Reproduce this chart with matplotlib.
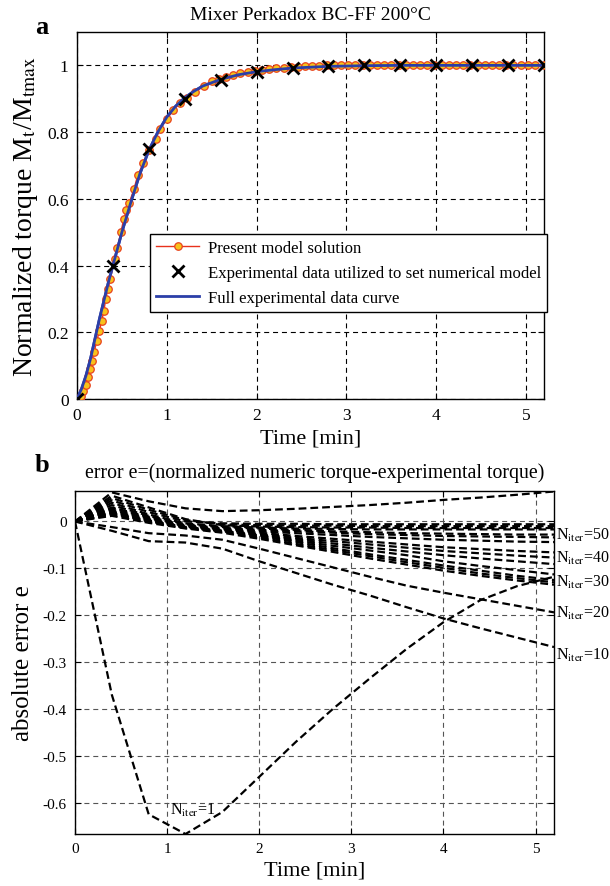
import matplotlib
matplotlib.use("Agg")
import matplotlib.pyplot as plt

plt.rcParams['font.family'] = ['Liberation Serif', 'DejaVu Serif']
plt.rcParams['mathtext.fontset'] = 'stix'
plt.rcParams['axes.unicode_minus'] = False

# ---------------- Panel a data ----------------
model_t = [0, 0.015, 0.03, 0.05, 0.07, 0.10, 0.12, 0.145, 0.165, 0.19, 0.22, 0.25,
           0.275, 0.30, 0.32, 0.345, 0.37, 0.42, 0.45, 0.49, 0.52, 0.55, 0.58, 0.635,
           0.675, 0.74, 0.80, 0.876, 0.925, 1.0, 1.07, 1.15, 1.22, 1.31, 1.41, 1.50,
           1.58, 1.66, 1.74, 1.82, 1.90, 1.98, 2.06, 2.14, 2.22, 2.30, 2.38, 2.46,
           2.54, 2.62, 2.70, 2.78, 2.86, 2.94, 3.02, 3.10, 3.18, 3.26, 3.34, 3.42,
           3.50, 3.58, 3.66, 3.74, 3.82, 3.90, 3.98, 4.06, 4.14, 4.22, 4.30, 4.38,
           4.46, 4.54, 4.62, 4.70, 4.78, 4.86, 4.94, 5.02, 5.10, 5.20]
model_v = [0, 0.0, 0.004, 0.01, 0.025, 0.042, 0.065, 0.09, 0.114, 0.14, 0.174, 0.205,
           0.234, 0.265, 0.30, 0.33, 0.36, 0.42, 0.453, 0.50, 0.54, 0.565, 0.587, 0.629,
           0.67, 0.707, 0.745, 0.78, 0.81, 0.838, 0.866, 0.887, 0.903, 0.92, 0.937, 0.953,
           0.96, 0.966, 0.972, 0.977, 0.981, 0.984, 0.987, 0.989, 0.991, 0.993, 0.995, 0.996,
           0.997, 0.998, 0.999, 1.0, 1.0, 1.0, 1.0, 1.0, 1.0, 1.0, 1.0, 1.0,
           1.0, 1.0, 1.0, 1.0, 1.0, 1.0, 1.0, 1.0, 1.0, 1.0, 1.0, 1.0,
           1.0, 1.0, 1.0, 1.0, 1.0, 1.0, 1.0, 1.0, 1.0, 1.0]

exp_t = [0, 0.4, 0.8, 1.2, 1.6, 2.0, 2.4, 2.8, 3.2, 3.6, 4.0, 4.4, 4.8, 5.2]
exp_v = [0, 0.40, 0.75, 0.90, 0.955, 0.98, 0.993, 0.997, 1.0, 1.0, 1.0, 1.0, 1.0, 1.0]

full_t = [0, 0.05, 0.1, 0.15, 0.2, 0.25, 0.3, 0.35, 0.4, 0.45, 0.5, 0.6, 0.7, 0.8,
          0.9, 1.0, 1.1, 1.2, 1.3, 1.4, 1.6, 1.8, 2.0, 2.2, 2.4, 2.8, 3.2, 3.6, 4.0,
          4.4, 4.8, 5.2]
full_v = [0, 0.03, 0.07, 0.12, 0.18, 0.24, 0.295, 0.35, 0.40, 0.45, 0.50, 0.59, 0.675,
          0.745, 0.80, 0.845, 0.878, 0.903, 0.922, 0.938, 0.958, 0.972, 0.981, 0.987,
          0.992, 0.997, 0.999, 1.0, 1.0, 1.0, 1.0, 1.0]

# ---------------- Panel b data ----------------
err_t = [0, 0.4, 0.8, 1.2, 1.6, 2.0, 2.4, 2.8, 3.2, 3.6, 4.0, 4.4, 4.8, 5.2]
err_n1 = [0, -0.37, -0.625, -0.667, -0.62, -0.545, -0.47, -0.40, -0.335, -0.272, -0.215, -0.168, -0.138, -0.118]
err_top = [0, 0.062, 0.043, 0.028, 0.022, 0.024, 0.027, 0.031, 0.035, 0.040, 0.046, 0.051, 0.057, 0.064]
err_n10 = [0, -0.02, -0.042, -0.045, -0.058, -0.085, -0.11, -0.135, -0.158, -0.183, -0.207, -0.228, -0.248, -0.268]
err_n20 = [0, -0.012, -0.025, -0.03, -0.039, -0.058, -0.078, -0.098, -0.118, -0.137, -0.152, -0.166, -0.180, -0.194]
err_n30a = [0, 0.012, -0.003, -0.015, -0.024, -0.037, -0.051, -0.065, -0.079, -0.092, -0.105, -0.116, -0.126, -0.135]
err_n30b = [0, 0.015, 0.0, -0.013, -0.022, -0.034, -0.048, -0.061, -0.074, -0.087, -0.099, -0.111, -0.121, -0.130]
err_n30c = [0, 0.017, 0.002, -0.012, -0.020, -0.031, -0.044, -0.057, -0.070, -0.082, -0.094, -0.105, -0.116, -0.125]
err_n35 = [0, 0.018, 0.0, -0.014, -0.020, -0.030, -0.041, -0.052, -0.062, -0.072, -0.085, -0.095, -0.104, -0.113]
err_n40a = [0, 0.028, 0.008, -0.010, -0.016, -0.021, -0.025, -0.029, -0.033, -0.036, -0.039, -0.041, -0.043, -0.044]
err_n40b = [0, 0.025, 0.006, -0.011, -0.018, -0.024, -0.031, -0.037, -0.043, -0.049, -0.055, -0.059, -0.063, -0.066]
err_n40c = [0, 0.022, 0.004, -0.012, -0.020, -0.027, -0.035, -0.042, -0.049, -0.056, -0.063, -0.068, -0.073, -0.077]
err_n40d = [0, 0.020, 0.002, -0.013, -0.021, -0.029, -0.038, -0.047, -0.056, -0.064, -0.072, -0.079, -0.085, -0.091]
err_n45a = [0, 0.035, 0.012, -0.006, -0.012, -0.015, -0.018, -0.021, -0.023, -0.025, -0.026, -0.027, -0.028, -0.028]
err_n45b = [0, 0.030, 0.010, -0.008, -0.014, -0.018, -0.021, -0.024, -0.027, -0.029, -0.031, -0.032, -0.033, -0.034]
err_n50a = [0, 0.045, 0.020, 0.0, -0.004, -0.005, -0.005, -0.006, -0.006, -0.006, -0.006, -0.006, -0.006, -0.006]
err_n50b = [0, 0.050, 0.025, 0.003, -0.006, -0.008, -0.009, -0.009, -0.010, -0.010, -0.010, -0.010, -0.010, -0.010]
err_n50c = [0, 0.055, 0.030, 0.005, -0.008, -0.011, -0.012, -0.013, -0.013, -0.014, -0.014, -0.014, -0.014, -0.014]
err_n50d = [0, 0.040, 0.015, -0.004, -0.010, -0.013, -0.015, -0.016, -0.017, -0.017, -0.017, -0.017, -0.017, -0.017]

niter_labels = ["50", "40", "30", "20", "10"]
niter_label_y = [-0.028, -0.077, -0.128, -0.194, -0.283]

W, H = 610, 887
fig = plt.figure(figsize=(W / 100, H / 100), dpi=100)

def style_axes(ax, gridcolor):
    ax.tick_params(direction='in', top=True, right=True, length=4, width=0.8,
                   labelsize=12.5, pad=6)
    for s in ax.spines.values():
        s.set_linewidth(1.0)
        s.set_color('black')
    ax.grid(True, color=gridcolor, linestyle=(0, (4.5, 3.5)), linewidth=0.8)
    ax.set_axisbelow(True)

# ---------------- Panel a ----------------
axa = fig.add_axes([77 / W, 1 - 400 / H, 467 / W, 367 / H])
style_axes(axa, 'black')
axa.plot(full_t, full_v, color='#2b3fa8', lw=2.0, zorder=2, label='Full experimental data curve')
axa.plot(model_t, model_v, color='#e8321c', lw=1.0, marker='o', ms=5.4,
         mfc='#f7c21b', mec='#e8421c', mew=0.9, zorder=3, label='Present model solution')
axa.plot(full_t, full_v, color='#2b3fa8', lw=2.0, zorder=4)
axa.plot(exp_t, exp_v, linestyle='none', marker='x', ms=8, mew=2.0, color='black',
         zorder=5, label='Experimental data utilized to set numerical model')
axa.set_xlim(0, 5.2)
axa.set_ylim(0, 1.1)
axa.set_xticks([0, 1, 2, 3, 4, 5])
axa.set_yticks([0, 0.2, 0.4, 0.6, 0.8, 1.0])
axa.set_yticklabels(['0', '0.2', '0.4', '0.6', '0.8', '1'])
axa.set_xlabel('Time [min]', fontsize=16, labelpad=4)
axa.set_ylabel(r'Normalized torque M$_{\mathrm{t}}$/M$_{\mathrm{tmax}}$', fontsize=20, labelpad=5)
axa.set_title('Mixer Perkadox BC-FF 200°C', fontsize=14, pad=9)
h, l = axa.get_legend_handles_labels()
order = [1, 2, 0]
leg = axa.legend([h[i] for i in order], [l[i] for i in order], loc='upper left',
                 bbox_to_anchor=(0.156, 0.45), borderaxespad=0, fontsize=12.1,
                 fancybox=False, edgecolor='black', framealpha=1, handlelength=2.6,
                 borderpad=0.35, labelspacing=0.55, handletextpad=0.5)
leg.get_frame().set_linewidth(1.0)
fig.text(42 / W, 1 - 28 / H, 'a', fontsize=19, fontweight='bold', ha='center', va='center')

# ---------------- Panel b ----------------
axb = fig.add_axes([75 / W, 1 - 835 / H, 479 / W, 343 / H])
style_axes(axb, '#555555')
curves = [err_n1, err_top, err_n10, err_n20, err_n30a, err_n30b, err_n30c, err_n35,
          err_n40a, err_n40b, err_n40c, err_n40d, err_n45a, err_n45b,
          err_n50a, err_n50b, err_n50c, err_n50d]
for c in curves:
    axb.plot(err_t, c, color='black', lw=1.6, linestyle=(0, (3.5, 1.8)), zorder=3)
axb.set_xlim(0, 5.2)
axb.set_ylim(-0.667, 0.065)
axb.set_xticks([0, 1, 2, 3, 4, 5])
axb.set_yticks([0, -0.1, -0.2, -0.3, -0.4, -0.5, -0.6])
axb.set_yticklabels(['0', '-0.1', '-0.2', '-0.3', '-0.4', '-0.5', '-0.6'])
axb.tick_params(labelsize=11)
axb.set_xlabel('Time [min]', fontsize=16, labelpad=4)
axb.set_ylabel('absolute error e', fontsize=18, labelpad=6)
axb.set_title('error e=(normalized numeric torque-experimental torque)', fontsize=14.3, pad=10)
for lab, yv in zip(niter_labels, niter_label_y):
    axb.text(1.004, yv, r'N$_{\mathrm{iter}}$=' + lab, transform=axb.get_yaxis_transform(),
             fontsize=11.5, ha='left', va='center', clip_on=False)
axb.text(1.03, -0.615, r'N$_{\mathrm{iter}}$=1', fontsize=11.5, ha='left', va='center')
fig.text(42 / W, 1 - 466 / H, 'b', fontsize=19, fontweight='bold', ha='center', va='center')

fig.savefig('out.png', dpi=100)
